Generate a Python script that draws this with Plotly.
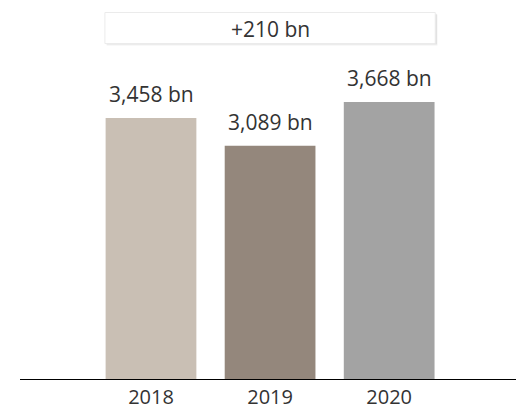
import plotly.graph_objects as go

years = ["2018", "2019", "2020"]
values = [3458, 3089, 3668]
value_labels = ["3,458 bn", "3,089 bn", "3,668 bn"]
colors = ["#C9BFB4", "#94877C", "#A3A3A3"]
change_label = "+210 bn"

FONT = "Open Sans, Noto Sans, sans-serif"
TXT = "#333333"

fig = go.Figure()
fig.add_trace(go.Bar(
    x=years, y=values, marker=dict(color=colors, line=dict(width=0)),
    width=0.762, hoverinfo="skip", showlegend=False,
))

for i, (v, lab) in enumerate(zip(values, value_labels)):
    fig.add_annotation(x=i, xref="x", y=v, yref="y", text=lab, showarrow=False,
                       yanchor="bottom", yshift=8,
                       font=dict(family=FONT, size=21, color=TXT))

# change box with soft shadow
fig.add_shape(type="rect", xref="x", yref="paper", x0=-0.372, x1=2.405,
              y0=0.880, y1=0.962, fillcolor="rgba(0,0,0,0.06)", line=dict(width=0), layer="above")
fig.add_shape(type="rect", xref="x", yref="paper", x0=-0.377, x1=2.400,
              y0=0.883, y1=0.964, fillcolor="rgba(0,0,0,0.07)", line=dict(width=0), layer="above")
fig.add_shape(type="rect", xref="x", yref="paper", x0=-0.387, x1=2.387,
              y0=0.885, y1=0.967, fillcolor="white", line=dict(color="#EBEBEB", width=1), layer="above")
fig.add_annotation(x=1, xref="x", y=0.9245, yref="paper", text=change_label, showarrow=False,
                   yanchor="middle", font=dict(family=FONT, size=21, color=TXT))

fig.update_layout(
    width=516, height=410, margin=dict(l=20, r=0, t=0, b=31),
    paper_bgcolor="white", plot_bgcolor="white",
    xaxis=dict(type="category", range=[-1.10, 3.065], showline=True, linecolor="black",
               linewidth=1, showgrid=False, ticks="", zeroline=False,
               tickfont=dict(family=FONT, size=20, color=TXT)),
    yaxis=dict(range=[0, 5020], visible=False, showgrid=False, zeroline=False),
)

fig.write_html("out.html", config={"displayModeBar": False},
               post_script="document.body.style.margin='0';")
